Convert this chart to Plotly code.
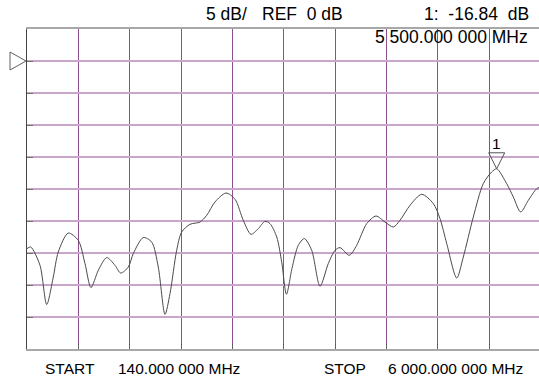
import plotly.graph_objects as go

# ---- data ----
START_MHZ = 140.0
STOP_MHZ = 6000.0
REF_DB = 0.0
SCALE_DB_PER_DIV = 5.0

freq_mhz = [140, 182, 288, 365, 440, 497, 611, 725, 802, 870, 954, 1050, 1144, 1209,
            1296, 1353, 1467, 1563, 1638, 1715, 1772, 1848, 1905, 2000, 2114, 2191,
            2285, 2411, 2514, 2608, 2696, 2780, 2856, 2913, 2990, 3047, 3101, 3164,
            3236, 3305, 3389, 3484, 3578, 3655, 3712, 3818, 3902, 4017, 4123, 4225,
            4320, 4397, 4511, 4644, 4777, 4853, 4930, 5044, 5119, 5233, 5347, 5443,
            5500, 5614, 5690, 5774, 5861, 5957, 6000]
level_db = [-29.31, -29.06, -31.92, -38.06, -33.75, -29.84, -26.88, -28.02, -31.66,
            -35.41, -32.70, -30.72, -31.92, -33.13, -32.19, -30.09, -27.59, -28.28,
            -32.19, -39.58, -36.34, -29.58, -26.72, -25.52, -25.16, -24.11, -22.03,
            -20.63, -21.61, -24.89, -27.08, -26.19, -25.05, -25.41, -27.50, -31.45,
            -36.45, -32.39, -28.80, -27.75, -29.58, -35.20, -31.66, -29.58, -29.16,
            -30.36, -28.80, -25.41, -24.22, -25.16, -25.94, -24.89, -22.55, -20.83,
            -22.28, -24.63, -28.53, -33.91, -30.63, -24.38, -19.16, -17.34, -16.84,
            -19.16, -21.25, -23.59, -21.77, -19.94, -19.66]

marker_freq = 5500.0
marker_db = -16.84
marker_label = "1"

top_scale_text = "5 dB/"
top_ref_text = "REF  0 dB"
marker_read_text = "1:  -16.84  dB"
marker_freq_text = "5 500.000 000 MHz"
start_label = "START"
start_text = "140.000 000 MHz"
stop_label = "STOP"
stop_text = "6 000.000 000 MHz"

# ---- layout geometry ----
W, H = 539, 381
ML, MT, MB = 27, 29, 32
plot_w = W - ML
full_w = 513.5  # full sweep width in px (right edge just past the window)
x_max = START_MHZ + (STOP_MHZ - START_MHZ) * plot_w / full_w
y_top = REF_DB + SCALE_DB_PER_DIV
y_bot = REF_DB - 9 * SCALE_DB_PER_DIV

FONT = "Liberation Sans, Arial, sans-serif"
TOP_TXT = dict(family=FONT, size=17.5, color="#000000")
BOT_TXT = dict(family=FONT, size=15.5, color="#000000")

fig = go.Figure()
fig.add_trace(go.Scatter(
    x=freq_mhz, y=level_db, mode="lines",
    line=dict(color="#4a4a4a", width=1, shape="spline", smoothing=0.8),
    hoverinfo="skip", showlegend=False,
))

fig.update_layout(
    width=W, height=H,
    margin=dict(l=ML, r=0, t=MT, b=MB, pad=0),
    paper_bgcolor="white", plot_bgcolor="white",
    showlegend=False,
    xaxis=dict(
        range=[START_MHZ, x_max], tick0=START_MHZ,
        dtick=(STOP_MHZ - START_MHZ) / 10,
        showgrid=True, gridcolor="#8f4f8f", gridwidth=1,
        zeroline=False, showticklabels=False,
        ticks="inside", ticklen=5, tickcolor="#606060",
        showline=True, mirror=True, linecolor="#a8a8a8", linewidth=2,
        fixedrange=True,
    ),
    yaxis=dict(
        range=[y_bot, y_top], tick0=REF_DB, dtick=SCALE_DB_PER_DIV,
        showgrid=True, gridcolor="#c9a6c9", gridwidth=2,
        zeroline=False, showticklabels=False,
        ticks="inside", ticklen=6, tickcolor="#707070",
        showline=True, linecolor="#454545", linewidth=1,
        fixedrange=True,
    ),
)


def px_x(px):
    return (px - ML) / plot_w


def px_y(py):
    return (H - MB - py) / (H - MT - MB)


anns = [
    (top_scale_text, px_x(204), px_y(14.5), "left", TOP_TXT),
    (top_ref_text, px_x(345), px_y(14.5), "right", TOP_TXT),
    (marker_read_text, px_x(531), px_y(14.5), "right", TOP_TXT),
    (marker_freq_text, px_x(530), px_y(37), "right", TOP_TXT),
    (start_label, px_x(43), px_y(368.5), "left", BOT_TXT),
    (start_text, px_x(116), px_y(368.5), "left", BOT_TXT),
    (stop_label, px_x(322), px_y(368.5), "left", BOT_TXT),
    (stop_text, px_x(525), px_y(368.5), "right", BOT_TXT),
]
for text, x, y, xa, f in anns:
    fig.add_annotation(text=text, x=x, y=y, xref="paper", yref="paper",
                       xanchor=xa, yanchor="middle", showarrow=False,
                       font=f)

# marker label "1"
fig.add_annotation(text=marker_label, x=marker_freq, y=marker_db, xref="x", yref="y",
                   xanchor="center", yanchor="middle", yshift=25, showarrow=False,
                   font=BOT_TXT)

# marker triangle (tip on the trace)
fig.add_shape(type="path", xref="x", yref="y", xsizemode="pixel", ysizemode="pixel",
              xanchor=marker_freq, yanchor=marker_db,
              path="M 0 0 L -8 16 L 8 16 Z",
              line=dict(color="#555555", width=1), fillcolor="rgba(0,0,0,0)")

# reference-level triangle on the left of the graticule
fig.add_shape(type="path", xref="paper", yref="y", xsizemode="pixel", ysizemode="pixel",
              xanchor=0, yanchor=REF_DB,
              path="M -17 9 L -1 0 L -17 -9 Z",
              line=dict(color="#606060", width=1), fillcolor="rgba(0,0,0,0)")

fig.write_html("out.html", config={"displayModeBar": False})
